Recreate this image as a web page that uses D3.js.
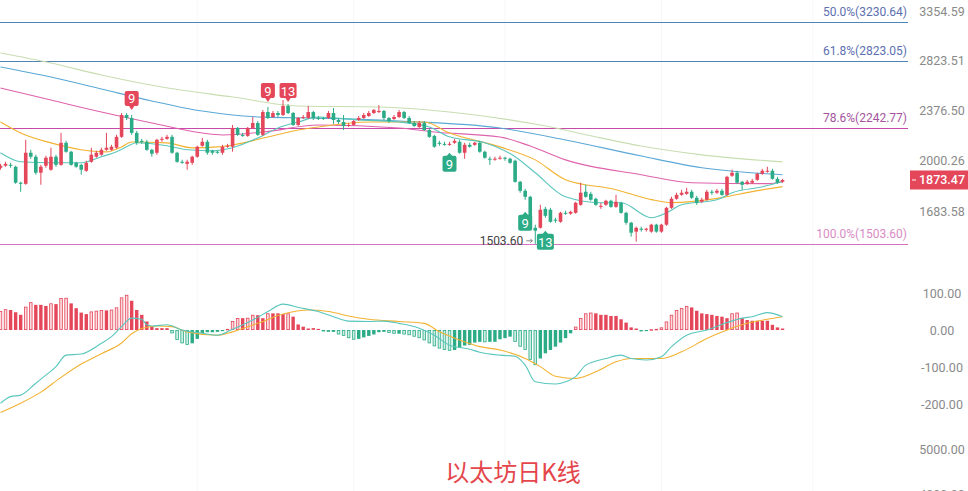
<!DOCTYPE html>
<html><head><meta charset="utf-8">
<script src="https://cdn.jsdelivr.net/npm/d3@7"></script>
<style>body{margin:0;background:#fff;} svg{display:block;font-family:Roboto,"Noto Sans",sans-serif;}</style>
</head><body><svg id="c" width="968" height="491"></svg>
<script>
// ---------- data ----------
const opens=[1954,1968,1974,1961,1856,1849,2058,2030,1921,1968,
1941,2030,1974,2130,2065,1988,1974,1934,1995,2030,
2044,2079,2079,2094,2174,2344,2320,2204,2144,2137,
2079,2058,2152,2159,2174,2058,1995,1981,1988,2030,
2108,2137,2072,2065,2058,2101,2101,2242,2189,2181,
2242,2280,2189,2368,2328,2360,2344,2418,2360,2265,
2320,2320,2368,2320,2320,2320,2360,2304,2288,2257,
2265,2304,2320,2336,2360,2368,2377,2320,2312,2328,
2368,2320,2280,2249,2280,2226,2181,2130,2122,2115,
2130,2137,2058,2115,2115,2130,2065,2016,2009,2016,
2023,2016,2002,1862,1805,1768,1589,1589,1696,1691,
1634,1622,1673,1668,1673,1720,1799,1786,1756,1708,
1720,1744,1708,1732,1673,1617,1568,1584,1578,1568,
1606,1568,1606,1702,1756,1780,1786,1799,1762,1738,
1750,1799,1793,1805,1780,1901,1921,1862,1849,1856,
1875,1914,1927,1934,1881,1862];
const closes=[1968,1981,1968,1856,1849,2058,2030,1921,1961,2023,
2030,1974,2130,2065,1974,1961,1941,1988,2044,2058,
2079,2094,2101,2174,2344,2320,2204,2130,2137,2079,
2051,2152,2159,2174,2058,1995,1988,1995,2030,2101,
2137,2058,2058,2058,2101,2108,2242,2189,2181,2242,
2280,2189,2368,2320,2360,2344,2418,2360,2265,2320,
2328,2368,2320,2316,2312,2360,2304,2288,2257,2265,
2296,2320,2344,2360,2385,2377,2320,2296,2328,2368,
2320,2280,2257,2280,2226,2174,2101,2122,2119,2122,
2144,2058,2115,2101,2130,2065,2023,2009,2016,2023,
2016,1988,1862,1805,1768,1589,1573,1691,1656,1622,
1628,1673,1668,1679,1732,1793,1768,1750,1720,1714,
1744,1708,1738,1673,1617,1562,1589,1578,1584,1606,
1568,1606,1702,1756,1780,1793,1799,1762,1732,1750,
1799,1793,1805,1780,1894,1921,1856,1843,1862,1868,
1914,1934,1934,1881,1856,1873.47];
const highs=[1981,1995,1988,1968,1862,2152,2079,2044,1974,2037,
2094,2044,2204,2144,2072,1995,1981,2002,2094,2072,
2094,2204,2115,2189,2360,2360,2344,2219,2159,2152,
2086,2159,2174,2189,2189,2065,2009,2009,2037,2108,
2166,2152,2079,2072,2115,2122,2265,2249,2204,2249,
2328,2296,2385,2410,2377,2377,2468,2434,2368,2328,
2344,2418,2377,2336,2328,2377,2401,2320,2344,2280,
2304,2336,2360,2377,2393,2426,2385,2328,2344,2385,
2377,2336,2296,2296,2296,2234,2189,2144,2137,2137,
2159,2152,2130,2130,2137,2144,2072,2030,2030,2037,
2030,2023,2009,1868,1817,1774,1606,1720,1708,1702,
1645,1679,1685,1685,1738,1856,1843,1799,1762,1732,
1750,1750,1780,1738,1679,1622,1595,1595,1589,1611,
1611,1611,1708,1768,1793,1811,1824,1811,1774,1762,
1811,1811,1817,1817,1901,1941,1934,1868,1875,1881,
1921,1947,1961,1947,1894,1881];
const lows=[1941,1961,1954,1849,1799,1843,2016,1908,1843,1954,
1934,1961,1968,2058,1968,1954,1908,1927,1988,2023,
2037,2072,2072,2086,2166,2304,2189,2115,2122,2072,
2030,2044,2137,2152,2051,1988,1981,1941,1974,2023,
2101,2044,2044,2051,2044,2094,2065,2181,2174,2174,
2234,2181,2181,2312,2320,2328,2336,2352,2257,2257,
2312,2312,2304,2304,2304,2312,2273,2273,2226,2249,
2257,2296,2312,2328,2352,2360,2304,2280,2304,2320,
2312,2273,2249,2242,2219,2166,2094,2108,2108,2108,
2122,2051,2016,2094,2108,2058,2016,1974,2002,2009,
2002,1981,1856,1793,1750,1584,1503.6,1584,1645,1617,
1617,1617,1662,1662,1668,1714,1762,1744,1714,1696,
1714,1702,1702,1668,1606,1541,1515,1568,1568,1562,
1562,1562,1600,1696,1750,1774,1780,1756,1720,1732,
1744,1780,1786,1774,1774,1894,1849,1811,1843,1849,
1868,1908,1921,1875,1849,1856];

// moving averages read at sample candles
const ma1Idx=[0,4,10,16,20,23,25,27,33,37,42,46,51,55,59,63,71,79,85,89,96,102,106,112,119,123,129,132,135,142,145,151,155];
const ma1Val=[2058,1995,1988,1988,2030,2065,2101,2130,2108,2079,2072,2094,2166,2242,2288,2328,2304,2288,2249,2174,2130,2030,1921,1768,1732,1732,1645,1673,1720,1750,1793,1830,1862];
const ma2Idx=[0,4,10,16,21,24,26,33,38,43,46,53,59,63,73,84,89,99,106,112,122,129,133,143,149,155];
const ma2Val=[2288,2203,2129,2079,2064,2100,2136,2129,2093,2100,2114,2173,2226,2249,2288,2288,2203,2100,2008,1875,1812,1751,1733,1763,1800,1831];
const ma3Idx=[0,10,20,30,40,44,52,63,79,86,99,105,112,127,137,152,155];
const ma3Val=[2573,2468,2368,2280,2203,2188,2210,2264,2241,2210,2173,2106,2008,1908,1856,1850,1862];
const ma4Idx=[0,10,20,30,40,52,63,79,99,112,127,139,155];
const ma4Val=[2766,2672,2564,2460,2376,2327,2319,2295,2241,2151,2035,1954,1908];
const ma5Idx=[0,10,20,32,46,59,75,89,107,119,127,139,155];
const ma5Val=[2902,2804,2690,2581,2494,2418,2410,2368,2264,2166,2106,2043,1994];

// MACD
const hist=[51,56,54,48,41,63,75,68,68,65,
72,70,86,87,72,59,47,43,50,52,
54,53,55,61,88,95,79,54,41,23,
9,5,5,5,-9,-27,-36,-40,-36,-24,
-8,-6,-6,-5,-3,3,24,32,32,33,
41,40,32,45,45,45,43,45,36,15,
9,4,5,3,-3,-5,-5,-12,-16,-22,
-26,-24,-20,-16,-12,-6,-5,-8,-10,-10,
-12,-14,-18,-22,-28,-36,-44,-50,-54,-56,
-54,-48,-42,-40,-34,-32,-33,-32,-32,-25,
-22,-18,-32,-45,-54,-81,-95,-77,-63,-54,
-45,-34,-22,-9,9,32,45,47,45,41,
41,38,38,29,20,7,4,-3,-3,2,
3,7,23,41,54,59,65,61,52,45,
43,41,38,36,32,45,47,32,27,25,
25,25,25,14,7,4];
const difIdx=[0,2,4,7,9,11,13,16,20,22,24,26,28,29,30,33,36,40,43,46,50,53,56,59,63,66,69,73,76,79,83,86,89,93,95,99,102,104,106,110,112,114,116,120,123,125,128,131,133,136,140,144,147,149,152,155];
const difVal=[-198,-180,-176,-144,-122,-99,-68,-65,-36,-18,9,32,29,14,11,14,0,-9,-14,2,27,50,70,61,50,36,24,23,24,18,5,-14,-41,-52,-60,-68,-71,-95,-140,-146,-140,-126,-95,-77,-68,-77,-81,-72,-45,-14,0,20,32,36,47,36];
const deaIdx=[0,4,8,12,16,20,24,26,28,31,34,37,43,46,51,56,61,65,69,73,79,84,87,91,95,99,104,107,110,114,118,122,125,131,135,140,144,148,152,155];
const deaVal=[-223,-198,-168,-128,-92,-64,-35,-10,4,11,9,-5,-14,-5,18,43,54,50,38,29,23,18,-5,-27,-45,-54,-77,-99,-125,-131,-113,-86,-77,-77,-59,-23,0,18,29,36];

const priceTicks=[3354.59,2823.51,2376.50,2000.26,1683.58];
const macdTicks=[100,0,-100,-200];
const volTicks=[5000,4000];
const fibRatios=['50.0%','61.8%','78.6%','100.0%'];
const fibValues=[3230.64,2823.05,2242.77,1503.60];
const markers=[{i:26,t:'9',up:true,p:2385},{i:53,t:'9',up:true,p:2451},{i:57,t:'13',up:true,p:2451},
{i:89,t:'9',up:false,p:2058},{i:104,t:'9',up:false,p:1679},{i:108,t:'13',up:false,p:1573}];
const monthIdx=[39,70,100,131,161];
const lowIdx=106;
const title='以太坊日K线';

// ---------- styles ----------
const RED='#e4465a', GREEN='#2bab86';
const fibLine=['#4f85b6','#4f85b6','#c64aa8','#d672bd'];
const fibText=['#5d6fb0','#5d6fb0','#a4549e','#d98bc4'];
const maColors=['#5ac6bd','#f2b232','#df62ac','#5aa8d6','#c8deb0'];

// ---------- scales ----------
const svg=d3.select('#c');
const x=d3.scaleLinear().domain([0,155]).range([0.5,782.5]);
const y=d3.scaleLog().domain([1683.58,3354.59]).range([211,11]);
const ym=d3.scaleLinear().domain([-200,100]).range([404,293]);
const yv=d3.scaleLinear().domain([4000,5000]).range([494,449]);

// grid
svg.append('g').selectAll('line').data(monthIdx).join('line')
 .attr('x1',d=>x(d)).attr('x2',d=>x(d)).attr('y1',0).attr('y2',491)
 .attr('stroke','#f7f7f7').attr('stroke-width',1);

// fib lines
const fg=svg.append('g');
fibValues.forEach((v,k)=>{
  fg.append('line').attr('x1',0).attr('x2',908).attr('y1',Math.round(y(v))+0.5).attr('y2',Math.round(y(v))+0.5)
    .attr('stroke',fibLine[k]).attr('stroke-width',1);
  fg.append('text').attr('x',907).attr('y',y(v)-6).attr('text-anchor','end')
    .attr('font-size',12).attr('fill',fibText[k]).text(`${fibRatios[k]}(${v.toFixed(2)})`);
});

// MA lines
const maSets=[[ma5Idx,ma5Val],[ma4Idx,ma4Val],[ma3Idx,ma3Val],[ma2Idx,ma2Val],[ma1Idx,ma1Val]];
const maCol=[maColors[4],maColors[3],maColors[2],maColors[1],maColors[0]];
const line=d3.line().x(d=>x(d[0])).y(d=>y(d[1])).curve(d3.curveMonotoneX);
maSets.forEach((s,k)=>{
  svg.append('path').attr('d',line(d3.zip(s[0],s[1]))).attr('fill','none')
    .attr('stroke',maCol[k]).attr('stroke-width',1.1);
});

// candles
const cg=svg.append('g');
const bw=3.6;
opens.forEach((o,i)=>{
  const c=closes[i], up=c>=o, col=up?RED:GREEN;
  const cx=x(i);
  cg.append('line').attr('x1',cx).attr('x2',cx).attr('y1',y(highs[i])).attr('y2',y(lows[i]))
    .attr('stroke',col).attr('stroke-width',1);
  const t=Math.min(y(o),y(c)), h=Math.max(1,Math.abs(y(o)-y(c)));
  cg.append('rect').attr('x',cx-bw/2).attr('y',t).attr('width',bw).attr('height',h).attr('fill',col);
});

// TD markers
markers.forEach(m=>{
  const cx=x(m.i), py=y(m.p), w=m.t.length>1?17:14, h=15;
  const col=m.up?RED:GREEN;
  const g=svg.append('g');
  if(m.up){
    g.append('rect').attr('x',cx-w/2).attr('y',py-4-h).attr('width',w).attr('height',h).attr('rx',2).attr('fill',col);
    g.append('path').attr('d',`M${cx-3},${py-4.5}L${cx+3},${py-4.5}L${cx},${py}Z`).attr('fill',col);
    g.append('text').attr('x',cx).attr('y',py-4-h/2+0.5).attr('text-anchor','middle').attr('dominant-baseline','central')
      .attr('font-size',13).attr('fill','#fff').text(m.t);
  } else {
    g.append('path').attr('d',`M${cx-3},${py+3.5}L${cx+3},${py+3.5}L${cx},${py}Z`).attr('fill',col);
    g.append('rect').attr('x',cx-w/2).attr('y',py+3).attr('width',w).attr('height',h+1).attr('rx',2).attr('fill',col);
    g.append('text').attr('x',cx).attr('y',py+3+(h+1)/2+0.5).attr('text-anchor','middle').attr('dominant-baseline','central')
      .attr('font-size',13).attr('fill','#fff').text(m.t);
  }
});

// low label
const lx=x(lowIdx), ly=y(lows[lowIdx]);
svg.append('text').attr('x',lx-12).attr('y',ly-3).attr('text-anchor','end').attr('dominant-baseline','central')
  .attr('font-size',12).attr('fill','#444').text(lows[lowIdx].toFixed(2));
svg.append('path').attr('d',`M${lx-9},${ly-3}L${lx-3},${ly-3}M${lx-5},${ly-5}L${lx-3},${ly-3}L${lx-5},${ly-1}`)
  .attr('stroke','#666').attr('fill','none').attr('stroke-width',0.8);

// price axis labels
svg.append('g').selectAll('text').data(priceTicks).join('text')
  .attr('x',942).attr('y',d=>y(d)).attr('text-anchor','middle').attr('dominant-baseline','central')
  .attr('font-size',12.5).attr('fill','#8a8a8a').text(d=>d.toFixed(2));

// current price tag
const last=closes[closes.length-1];
svg.append('rect').attr('x',910).attr('y',y(last)-9.5).attr('width',58).attr('height',19).attr('fill',RED);
svg.append('line').attr('x1',912).attr('x2',916).attr('y1',y(last)).attr('y2',y(last)).attr('stroke','#fff').attr('stroke-width',1);
svg.append('text').attr('x',942).attr('y',y(last)).attr('text-anchor','middle').attr('dominant-baseline','central')
  .attr('font-size',12.5).attr('font-weight',500).attr('fill','#fff').text(last.toFixed(2));

// MACD histogram
const hg=svg.append('g');
const hw=3.4;
hist.forEach((v,i)=>{
  const prev=i>0?hist[i-1]:0;
  const grow=Math.abs(v)>Math.abs(prev)||(Math.sign(v)!==Math.sign(prev));
  const pos=v>=0, col=pos?RED:GREEN;
  const t=Math.min(ym(v),ym(0)), h=Math.max(1,Math.abs(ym(v)-ym(0)));
  if(grow){
    hg.append('rect').attr('x',x(i)-hw/2+0.4).attr('y',t+0.4).attr('width',hw-0.8).attr('height',Math.max(0.6,h-0.8))
      .attr('fill',pos?'#fbd9dd':'#cdeee3').attr('stroke',col).attr('stroke-width',0.8);
  } else {
    hg.append('rect').attr('x',x(i)-hw/2).attr('y',t).attr('width',hw).attr('height',h).attr('fill',col);
  }
});
const mline=d3.line().x(d=>x(d[0])).y(d=>ym(d[1])).curve(d3.curveMonotoneX);
svg.append('path').attr('d',mline(d3.zip(deaIdx,deaVal))).attr('fill','none').attr('stroke',maColors[1]).attr('stroke-width',1.1);
svg.append('path').attr('d',mline(d3.zip(difIdx,difVal))).attr('fill','none').attr('stroke',maColors[0]).attr('stroke-width',1.1);

svg.append('g').selectAll('text').data(macdTicks).join('text')
  .attr('x',942).attr('y',d=>ym(d)).attr('text-anchor','middle').attr('dominant-baseline','central')
  .attr('font-size',12.5).attr('fill','#8a8a8a').text(d=>d.toFixed(2));
svg.append('g').selectAll('text').data(volTicks).join('text')
  .attr('x',942).attr('y',d=>yv(d)).attr('text-anchor','middle').attr('dominant-baseline','central')
  .attr('font-size',12.5).attr('fill','#8a8a8a').text(d=>d.toFixed(2));

// title
svg.append('text').attr('x',513).attr('y',470).attr('text-anchor','middle').attr('dominant-baseline','central')
  .attr('font-family','"Noto Sans CJK SC",sans-serif').attr('font-size',24).attr('fill','#e4464b').text(title);
</script></body></html>
